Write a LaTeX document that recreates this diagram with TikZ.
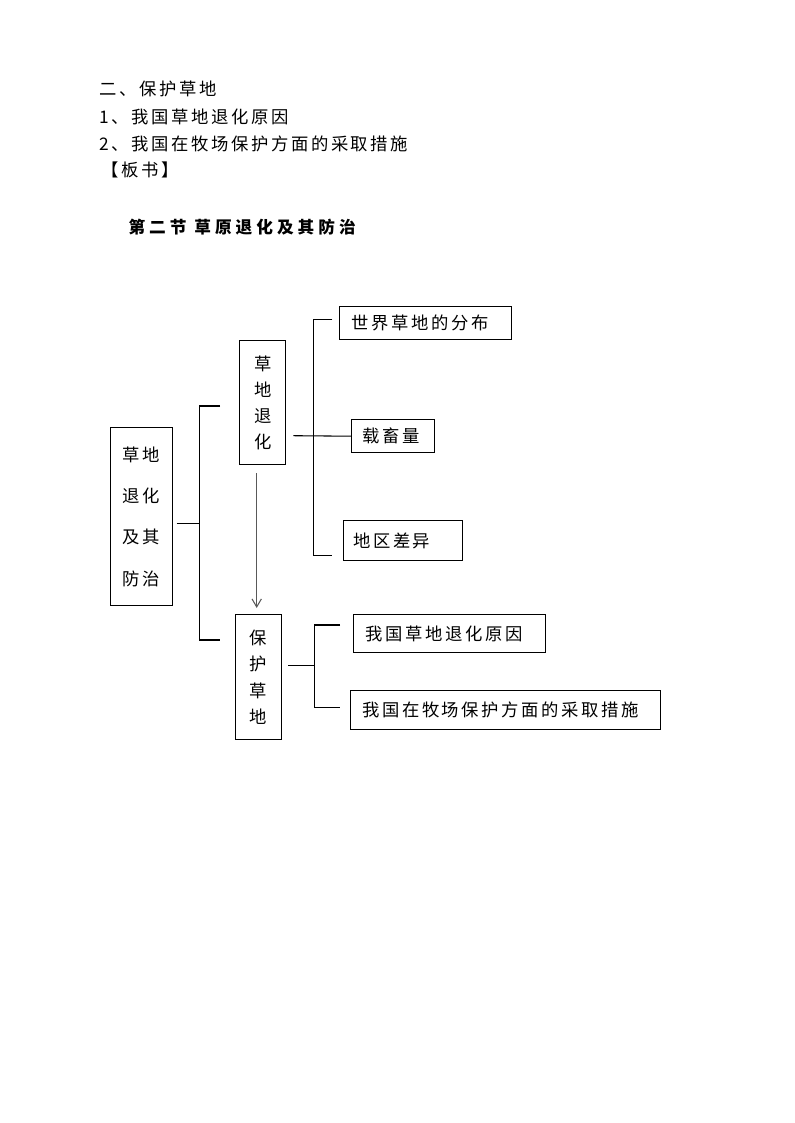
\documentclass[tikz,border=0pt]{standalone}
\usepackage{fontspec}
\setmainfont{Noto Sans CJK SC}[LetterSpace=15]
\usetikzlibrary{arrows.meta}

\tikzset{
  hang/.style={anchor=west, inner sep=0pt},
  kuang/.style={draw, anchor=north west, inner sep=0pt, align=center},
  yekuang/.style={draw, anchor=north west, inner ysep=0pt, align=left},
  jiantou/.style={-{Straight Barb[length=6pt,width=7pt]}, black!65}
}

\begin{document}
\begin{tikzpicture}[x=0.75pt,y=-0.75pt,line width=0.8pt,
  font=\fontsize{13pt}{19.5pt}\selectfont]
  \useasboundingbox (0,0) rectangle (794,1123);

  % heading lines
  \node[hang] (tk1) at (99,88.5) {二、保护草地};
  \node[hang] (tk2) at (99,116.5) {1、我国草地退化原因};
  \node[hang] (tk3) at (99,144) {2、我国在牧场保护方面的采取措施};
  \node[hang] (tk4) at (101,170) {【板书】};
  \node[hang, font=\fontsize{12.5pt}{14pt}\selectfont\bfseries\addfontfeatures{LetterSpace=24}] (biaoti) at (128,227.5) {第二节 草原退化及其防治};

  % boxes
  \node[kuang, minimum width=46.3pt, minimum height=133.5pt,
    font=\fontsize{13pt}{31pt}\selectfont] (zhuti) at (110,427) {草地\\退化\\及其\\防治};
  \node[kuang, minimum width=34.5pt, minimum height=93.2pt] (tuihua) at (239.3,340) {草\\地\\退\\化};
  \node[kuang, minimum width=34.3pt, minimum height=93.8pt,
    font=\fontsize{13pt}{19.9pt}\selectfont] (baohu) at (235,614) {保\\护\\草\\地};

  \node[yekuang, inner xsep=8.8pt, text width=111.2pt, minimum height=25pt] (fenbu) at (339.3,306) {世界草地的分布};
  \node[yekuang, inner xsep=8pt, text width=46.5pt, minimum height=25pt] (zaixu) at (351,419) {载畜量};
  \node[yekuang, inner xsep=7pt, text width=74.8pt, minimum height=30pt] (chayi) at (343.3,520) {地区差异};
  \node[yekuang, inner xsep=8.8pt, text width=126.2pt, minimum height=28.5pt] (yuanyin) at (353.3,614.3) {我国草地退化原因};
  \node[yekuang, inner xsep=8.8pt, text width=214.9pt, minimum height=29.5pt] (cuoshi) at (350,690) {我国在牧场保护方面的采取措施};

  % bracket of the main box
  \coordinate (s1) at (176.7,523.3);
  \coordinate (j1t) at (199.3,406);
  \coordinate (j1b) at (199.3,640);
  \coordinate (e1t) at (220,406);
  \coordinate (e1b) at (219.5,640);
  \draw (s1) -- (s1 -| j1t);
  \draw (e1t) -- (j1t) -- (j1b) -- (e1b);

  % bracket of tuihua
  \coordinate (s2) at (293.3,435.7);
  \coordinate (j2t) at (313.3,319.3);
  \coordinate (j2b) at (313.3,555.7);
  \coordinate (e2t) at (332.3,319.3);
  \coordinate (e2b) at (332.3,555.7);
  \draw (s2) -- (zaixu.west);
  \draw (e2t) -- (j2t) -- (j2b) -- (e2b);

  % bracket of baohu
  \coordinate (s3) at (288.3,665.7);
  \coordinate (j3t) at (314.3,625);
  \coordinate (j3b) at (314.3,707.3);
  \coordinate (e3t) at (340,625);
  \coordinate (e3b) at (340,707.3);
  \draw (s3) -- (s3 -| j3t);
  \draw (e3t) -- (j3t) -- (j3b) -- (e3b);

  % arrow down
  \coordinate (a0) at (256.7,473.3);
  \draw[jiantou, shorten >=4.5pt] (a0) -- (a0 |- baohu.north);
\end{tikzpicture}
\end{document}
